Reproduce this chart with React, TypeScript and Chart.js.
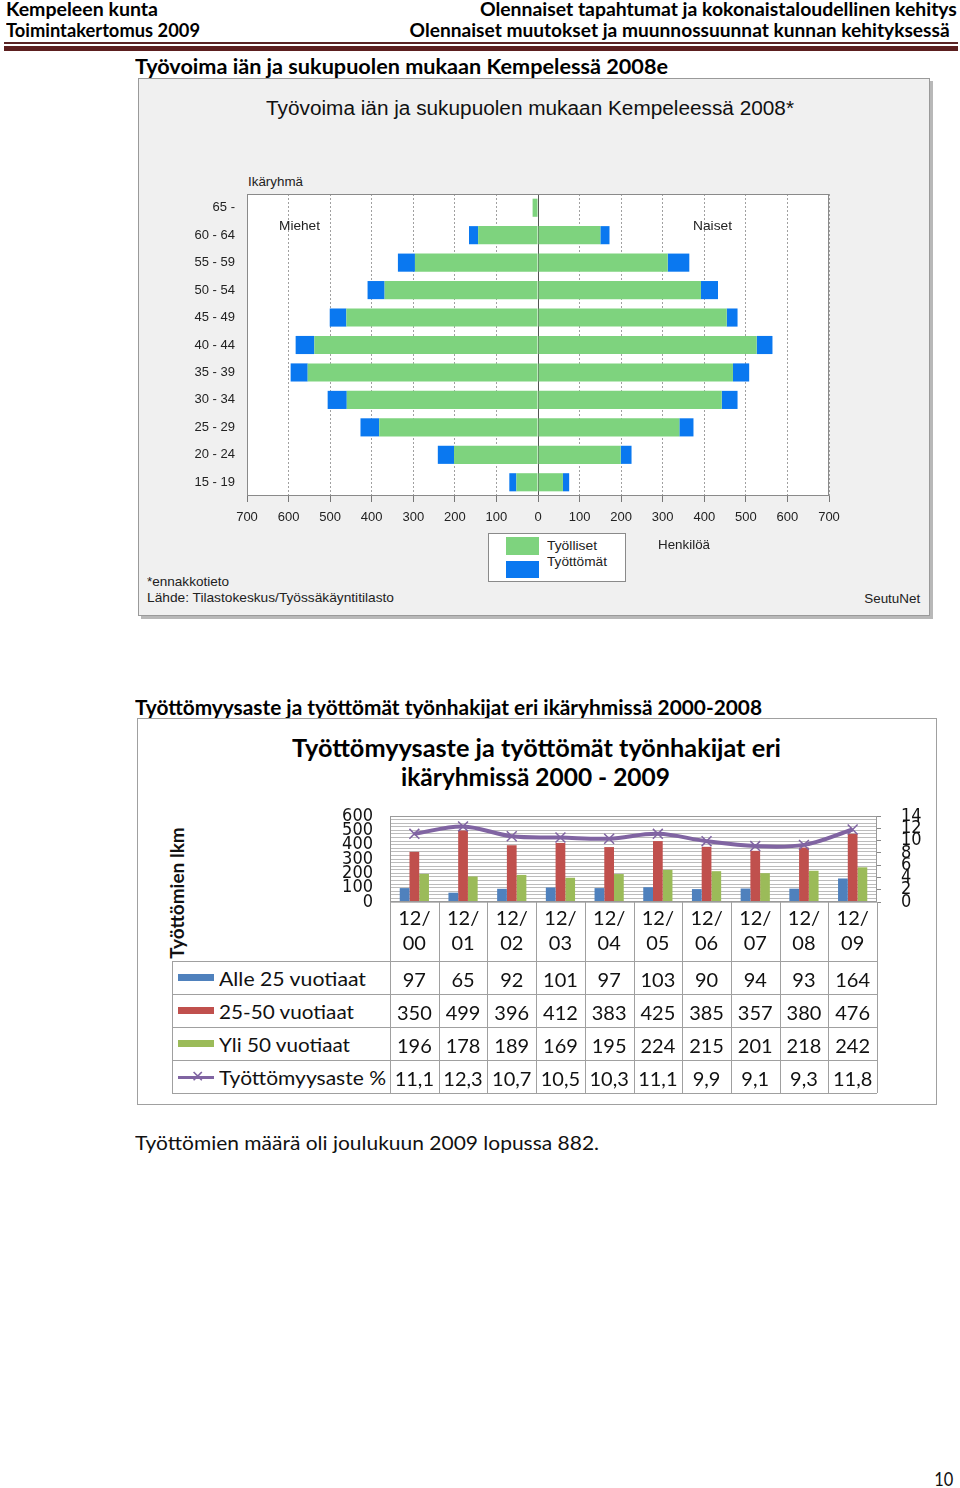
import React, { useEffect, useLayoutEffect, useRef } from 'react';
import { Chart, registerables } from 'chart.js';

Chart.register(...registerables);

// ---------- Data: chart 1 (population pyramid) ----------
const ageGroups = ['65 -', '60 - 64', '55 - 59', '50 - 54', '45 - 49', '40 - 44', '35 - 39', '30 - 34', '25 - 29', '20 - 24', '15 - 19'];
const menEmployed = [13, 144, 296, 369, 461, 538, 554, 460, 382, 202, 52];
const menUnemployed = [0, 22, 41, 41, 40, 45, 41, 46, 45, 39, 17];
const womenEmployed = [0, 150, 312, 392, 454, 526, 469, 442, 340, 199, 60];
const womenUnemployed = [0, 22, 52, 41, 26, 38, 39, 38, 34, 26, 15];

// ---------- Data: chart 2 (unemployment) ----------
const periods = [['12/', '00'], ['12/', '01'], ['12/', '02'], ['12/', '03'], ['12/', '04'], ['12/', '05'], ['12/', '06'], ['12/', '07'], ['12/', '08'], ['12/', '09']];
const under25 = [97, 65, 92, 101, 97, 103, 90, 94, 93, 164];
const age25to50 = [350, 499, 396, 412, 383, 425, 385, 357, 380, 476];
const over50 = [196, 178, 189, 169, 195, 224, 215, 201, 218, 242];
const unemploymentRate = [11.1, 12.3, 10.7, 10.5, 10.3, 11.1, 9.9, 9.1, 9.3, 11.8];

const GREEN1 = '#7ed37e';
const BLUE1 = '#0a78f0';
const BLUE2 = '#4f81bd';
const RED2 = '#c0504d';
const GREEN2 = '#9bbb59';
const PURPLE2 = '#8064a2';

const DOC = "Lato, 'Open Sans', sans-serif";
const ARIAL = "'Liberation Sans', Arial, sans-serif";
const NARROW = "'Liberation Sans Narrow', 'DejaVu Sans Condensed', 'Liberation Sans', sans-serif";

type FTProps = {
  x: number; cy: number; w?: number; size: number; weight?: number | string;
  family?: string; align?: 'left' | 'right'; color?: string; children: React.ReactNode;
};

function FitText({ x, cy, w, size, weight = 400, family = DOC, align = 'left', color = '#000', children }: FTProps) {
  const ref = useRef<HTMLDivElement>(null);
  useLayoutEffect(() => {
    const el = ref.current;
    if (!el || !w) return;
    const fit = () => {
      el.style.transform = 'none';
      const nat = el.getBoundingClientRect().width;
      if (nat > 0) el.style.transform = `scaleX(${w / nat})`;
    };
    fit();
    const f = (document as any).fonts;
    if (f && f.ready) f.ready.then(fit);
  }, [w]);
  const style: React.CSSProperties = {
    position: 'absolute', top: cy - size * 0.6, fontSize: size, lineHeight: `${size * 1.2}px`,
    fontFamily: family, fontWeight: weight as any, color, whiteSpace: 'nowrap',
  };
  if (align === 'left') { style.left = x; style.transformOrigin = 'left center'; }
  else { style.right = 960 - x; style.transformOrigin = 'right center'; }
  return <div ref={ref} style={style}>{children}</div>;
}

const framePlugin = (fill: string, stroke: string) => ({
  id: 'frame',
  beforeDraw(chart: any) {
    const { ctx, chartArea: a } = chart;
    ctx.save();
    ctx.fillStyle = fill;
    ctx.fillRect(a.left, a.top, a.right - a.left, a.bottom - a.top);
    ctx.restore();
  },
  afterDraw(chart: any) {
    const { ctx, chartArea: a } = chart;
    ctx.save();
    ctx.strokeStyle = stroke;
    ctx.lineWidth = 1;
    ctx.strokeRect(Math.round(a.left) + 0.5, Math.round(a.top) + 0.5, Math.round(a.right - a.left) - 1, Math.round(a.bottom - a.top) - 1);
    ctx.restore();
  },
});

// pyramid canvas: page (140,174), plot area 247..829 x 194..496
function PyramidChart() {
  const ref = useRef<HTMLCanvasElement>(null);
  useEffect(() => {
    const chart = new Chart(ref.current as HTMLCanvasElement, {
      type: 'bar',
      data: {
        labels: ageGroups,
        datasets: [
          { label: 'Työlliset', data: menEmployed.map((v) => -v), backgroundColor: GREEN1, stack: 's' },
          { label: 'Työttömät', data: menUnemployed.map((v) => -v), backgroundColor: BLUE1, stack: 's' },
          { label: 'Työlliset ', data: womenEmployed, backgroundColor: GREEN1, stack: 's' },
          { label: 'Työttömät ', data: womenUnemployed, backgroundColor: BLUE1, stack: 's' },
        ],
      },
      options: {
        indexAxis: 'y',
        animation: false,
        responsive: false,
        layout: { padding: { top: 20, right: 22, bottom: 14, left: 0 } },
        plugins: { legend: { display: false }, tooltip: { enabled: false } },
        datasets: { bar: { categoryPercentage: 1, barPercentage: 0.66, borderWidth: 0 } },
        scales: {
          x: {
            type: 'linear', stacked: true, min: -700, max: 700,
            ticks: {
              stepSize: 100, autoSkip: false, padding: 8, color: '#222',
              font: { family: ARIAL, size: 13 },
              callback: (v: any) => String(Math.abs(Number(v))),
            },
            grid: {
              color: (c: any) => (c.tick && c.tick.value === 0 ? '#555' : '#a0a0a0'),
              tickLength: 6, tickColor: '#777',
            },
            border: { display: false, dash: (c: any) => (c.tick && c.tick.value === 0 ? [] : [2, 2]) },
            afterFit: (s: any) => { s.height = 30; },
          } as any,
          y: {
            stacked: true,
            ticks: { padding: 12, color: '#222', font: { family: ARIAL, size: 13 }, autoSkip: false },
            grid: { display: false, drawTicks: false },
            border: { display: false },
            afterFit: (s: any) => { s.width = 107; },
          } as any,
        },
      },
      plugins: [framePlugin('#ffffff', '#8a8a8a')],
    } as any);
    return () => chart.destroy();
  }, []);
  return <canvas ref={ref} width={711} height={366} style={{ position: 'absolute', left: 140, top: 174, width: 711, height: 366 }} />;
}

// unemployment canvas: page (330,784), plot area 390..877 x 816..902
function UnemploymentChart() {
  const ref = useRef<HTMLCanvasElement>(null);
  useEffect(() => {
    const chart = new Chart(ref.current as HTMLCanvasElement, {
      type: 'bar',
      data: {
        labels: periods,
        datasets: [
          {
            type: 'line', label: 'Työttömyysaste %', data: unemploymentRate, yAxisID: 'y2',
            borderColor: PURPLE2, borderWidth: 4, tension: 0.35, pointStyle: 'crossRot',
            pointRadius: 7, pointBorderWidth: 1.5, pointBorderColor: PURPLE2, pointBackgroundColor: PURPLE2, order: 0,
          },
          { label: 'Alle 25 vuotiaat', data: under25, backgroundColor: BLUE2, yAxisID: 'y', order: 1 },
          { label: '25-50 vuotiaat', data: age25to50, backgroundColor: RED2, yAxisID: 'y', order: 1 },
          { label: 'Yli 50 vuotiaat', data: over50, backgroundColor: GREEN2, yAxisID: 'y', order: 1 },
        ],
      },
      options: {
        animation: false,
        responsive: false,
        layout: { padding: { top: 32, right: 0, bottom: 0, left: 0 } },
        plugins: { legend: { display: false }, tooltip: { enabled: false } },
        datasets: { bar: { categoryPercentage: 0.6, barPercentage: 1, borderWidth: 0 } },
        scales: {
          x: {
            grid: { display: false, drawTicks: false },
            border: { display: false },
            ticks: { padding: 4, color: '#111', font: { family: DOC, size: 20, lineHeight: 1.25 }, maxRotation: 0, autoSkip: false },
            afterFit: (s: any) => { s.height = 63; },
          } as any,
          y: {
            position: 'left', min: 0, max: 600,
            ticks: {
              stepSize: 25, autoSkip: false, padding: 17, color: '#111',
              font: { family: NARROW, size: 18 },
              callback: (v: any) => (Number(v) % 100 === 0 ? String(v) : ''),
            },
            grid: { color: '#bcbcbc', drawTicks: false },
            border: { display: false },
            afterFit: (s: any) => { s.width = 60; },
          } as any,
          y2: {
            position: 'right', min: 0, max: 14,
            ticks: { stepSize: 2, autoSkip: false, padding: 20, color: '#111', font: { family: NARROW, size: 18 } },
            grid: { drawOnChartArea: false, tickLength: 4, tickColor: '#888' },
            border: { display: false },
            afterFit: (s: any) => { s.width = 63; },
          } as any,
        },
      },
      plugins: [framePlugin('#ffffff', '#9a9a9a')],
    } as any);
    return () => chart.destroy();
  }, []);
  return <canvas ref={ref} width={610} height={181} style={{ position: 'absolute', left: 330, top: 784, width: 610, height: 181 }} />;
}

const COL_LEFT = 390;
const COL_W = 48.7;
const ROW_TOPS = [961, 994, 1027, 1060];
const ROW_H = 33;

function DataTable() {
  const fmt = (v: number) => v.toFixed(1).replace('.', ',');
  const rows = [
    { label: 'Alle 25 vuotiaat', w: 147, values: under25.map(String), color: BLUE2, line: false },
    { label: '25-50 vuotiaat', w: 135, values: age25to50.map(String), color: RED2, line: false },
    { label: 'Yli 50 vuotiaat', w: 131, values: over50.map(String), color: GREEN2, line: false },
    { label: 'Työttömyysaste %', w: 167, values: unemploymentRate.map(fmt), color: PURPLE2, line: true },
  ];
  const lineColor = '#a0a0a0';
  const els: React.ReactNode[] = [];
  [961, 994, 1027, 1060, 1093].forEach((y, i) => {
    els.push(<div key={'h' + i} style={{ position: 'absolute', left: 172, top: y, width: COL_LEFT + COL_W * 10 - 172, height: 1, background: lineColor }} />);
  });
  els.push(<div key="vL" style={{ position: 'absolute', left: 172, top: 961, width: 1, height: 1093 - 961, background: lineColor }} />);
  for (let i = 0; i <= 10; i++) {
    els.push(<div key={'v' + i} style={{ position: 'absolute', left: Math.round(COL_LEFT + COL_W * i), top: 902, width: 1, height: 1093 - 902, background: lineColor }} />);
  }
  rows.forEach((r, ri) => {
    const top = ROW_TOPS[ri];
    const cy = top + ROW_H / 2 + 0.5;
    if (!r.line) {
      els.push(<div key={'sw' + ri} style={{ position: 'absolute', left: 178, top: cy - 4, width: 36, height: 7, background: r.color }} />);
    } else {
      els.push(<div key={'sw' + ri} style={{ position: 'absolute', left: 178, top: cy - 1.5, width: 36, height: 3, background: r.color }} />);
      els.push(<div key={'swx' + ri} style={{ position: 'absolute', left: 190, top: cy - 7, width: 14, height: 14, color: r.color, fontSize: 16, lineHeight: '14px', textAlign: 'center', fontFamily: ARIAL }}>✕</div>);
    }
    els.push(<FitText key={'lb' + ri} x={219} cy={cy} w={r.w} size={20} family={DOC} color="#111">{r.label}</FitText>);
    r.values.forEach((v, ci) => {
      els.push(
        <div key={'c' + ri + '_' + ci} style={{
          position: 'absolute', left: COL_LEFT + COL_W * ci, top: top + 1, width: COL_W, height: ROW_H,
          display: 'flex', alignItems: 'center', justifyContent: 'center', fontFamily: DOC, fontSize: 20, color: '#111',
        }}>{v}</div>
      );
    });
  });
  return <>{els}</>;
}

export default function App() {
  return (
    <div style={{ position: 'absolute', left: 0, top: 0, width: 960, height: 1488, background: '#fff', overflow: 'hidden', fontFamily: DOC }}>
      {/* Page header */}
      <FitText x={6} cy={10} w={152} size={18} weight={700}>Kempeleen kunta</FitText>
      <FitText x={6} cy={31} w={194} size={18} weight={700}>Toimintakertomus 2009</FitText>
      <FitText x={957} cy={10} w={477} size={18} weight={700} align="right">Olennaiset tapahtumat ja kokonaistaloudellinen kehitys</FitText>
      <FitText x={950} cy={31} w={540} size={18} weight={700} align="right">Olennaiset muutokset ja muunnossuunnat kunnan kehityksessä</FitText>
      <div style={{ position: 'absolute', left: 4, top: 42, width: 954, height: 2, background: '#5a2424' }} />
      <div style={{ position: 'absolute', left: 4, top: 46, width: 954, height: 5, background: '#5c1f1f' }} />

      {/* Section 1 */}
      <FitText x={135} cy={66} w={533} size={20} weight={700}>Työvoima iän ja sukupuolen mukaan Kempelessä 2008e</FitText>
      <div style={{ position: 'absolute', left: 138, top: 78, width: 790, height: 536, background: '#f0f0f0', border: '1px solid #9a9a9a', boxShadow: '3px 3px 0 #b8b8b8' }} />
      <FitText x={266} cy={108} w={528} size={20} family={ARIAL} color="#111">Työvoima iän ja sukupuolen mukaan Kempeleessä 2008*</FitText>
      <FitText x={248} cy={182} w={55} size={13} family={ARIAL} color="#222">Ikäryhmä</FitText>
      <PyramidChart />
      <FitText x={279} cy={226} w={41} size={13} family={ARIAL} color="#222">Miehet</FitText>
      <FitText x={693} cy={226} w={39} size={13} family={ARIAL} color="#222">Naiset</FitText>
      <div style={{ position: 'absolute', left: 488, top: 533, width: 136, height: 47, background: '#fff', border: '1px solid #8a8a8a' }} />
      <div style={{ position: 'absolute', left: 506, top: 537, width: 33, height: 18, background: GREEN1 }} />
      <div style={{ position: 'absolute', left: 506, top: 561, width: 33, height: 17, background: BLUE1 }} />
      <FitText x={547} cy={546} w={50} size={13} family={ARIAL} color="#222">Työlliset</FitText>
      <FitText x={547} cy={562} w={60} size={13} family={ARIAL} color="#222">Työttömät</FitText>
      <FitText x={658} cy={545} w={52} size={13} family={ARIAL} color="#222">Henkilöä</FitText>
      <FitText x={147} cy={582} w={82} size={13} family={ARIAL} color="#222">*ennakkotieto</FitText>
      <FitText x={147} cy={598} w={247} size={13} family={ARIAL} color="#222">Lähde: Tilastokeskus/Työssäkäyntitilasto</FitText>
      <FitText x={920} cy={599} w={56} size={13} family={ARIAL} color="#222" align="right">SeutuNet</FitText>

      {/* Section 2 */}
      <FitText x={135} cy={707} w={627} size={20} weight={700}>Työttömyysaste ja työttömät työnhakijat eri ikäryhmissä 2000-2008</FitText>
      <div style={{ position: 'absolute', left: 137, top: 718, width: 798, height: 385, background: '#fff', border: '1px solid #a0a0a0' }} />
      <FitText x={292} cy={748} w={489} size={24} weight={700}>Työttömyysaste ja työttömät työnhakijat eri</FitText>
      <FitText x={401} cy={777} w={269} size={24} weight={700}>ikäryhmissä 2000 - 2009</FitText>
      <div style={{ position: 'absolute', left: 176, top: 893, transform: 'translate(-50%, -50%) rotate(-90deg)', fontFamily: DOC, fontWeight: 700, fontSize: 19, whiteSpace: 'nowrap', color: '#111' }}>Työttömien lkm</div>
      <UnemploymentChart />
      <DataTable />

      <FitText x={135} cy={1142} w={464} size={20} color="#111">Työttömien määrä oli joulukuun 2009 lopussa 882.</FitText>
      <FitText x={953} cy={1478} w={19} size={20} color="#111" align="right">10</FitText>
    </div>
  );
}
